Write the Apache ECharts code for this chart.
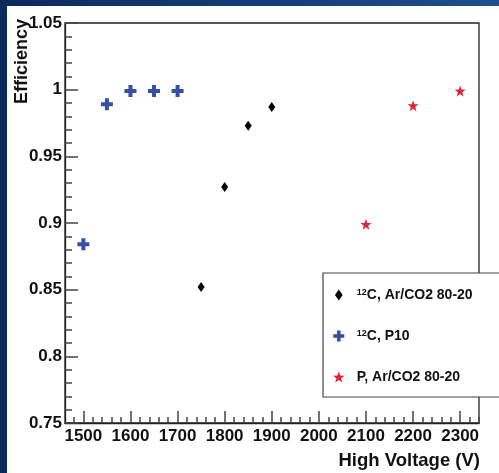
<!DOCTYPE html>
<html>
<head>
<meta charset="utf-8">
<script src="https://cdn.jsdelivr.net/npm/echarts@6/dist/echarts.min.js"></script>
<style>html,body{margin:0;padding:0;background:#fff;}#c{width:499px;height:473px;}</style>
</head>
<body>
<div id="c"></div>
<script>
// ---- data ----
const seriesNames = ['\u00B9\u00B2C, Ar/CO2 80-20', '\u00B9\u00B2C, P10', 'P, Ar/CO2 80-20'];
const voltCAr = [1750, 1800, 1850, 1900];
const effCAr = [0.852, 0.927, 0.973, 0.987];
const voltCP10 = [1500, 1550, 1600, 1650, 1700];
const effCP10 = [0.884, 0.989, 0.999, 0.999, 0.999];
const voltPAr = [2100, 2200, 2300];
const effPAr = [0.899, 0.988, 0.999];
const xTickLabels = [1500, 1600, 1700, 1800, 1900, 2000, 2100, 2200, 2300];
const yTickLabels = [0.75, 0.8, 0.85, 0.9, 0.95, 1, 1.05];
const xTitle = 'High Voltage (V)';
const yTitle = 'Efficiency';

const xMin = 1461, xMax = 2340;
const xMinor = [];
for (let v = 1480; v <= 2340; v += 20) xMinor.push(v);

const pair = (xs, ys) => xs.map((x, i) => [x, ys[i]]);
const FONT = '"Liberation Sans", Arial, Helvetica, sans-serif';
const AX = '#222';

const crossPath = 'path://M4,0H8V4H12V8H8V12H4V8H0V4H4Z';
const diamondPath = 'path://M3.5,0L7,5L3.5,10L0,5Z';
const starPath = 'path://M10,0L12.35,6.76L19.51,6.91L13.8,11.24L15.88,18.09L10,14L4.12,18.09L6.2,11.24L0.49,6.91L7.65,6.76Z';

const legendFmt = name => name.indexOf('\u00B9\u00B2') === 0
  ? '{sup|12}{t|' + name.slice(2) + '}'
  : '{t|' + name + '}';

const chart = echarts.init(document.getElementById('c'), null, {renderer: 'canvas'});
chart.setOption({
  backgroundColor: '#fff',
  animation: false,
  grid: {left: 65, right: 20, top: 23, bottom: 50, show: true, borderColor: AX, borderWidth: 1.3, backgroundColor: 'transparent'},
  xAxis: [{
    type: 'value', min: xMin, max: xMax, position: 'bottom',
    axisLine: {show: true, onZero: false, lineStyle: {color: AX, width: 1.3}},
    axisTick: {show: true, inside: true, length: 12, customValues: xTickLabels, lineStyle: {color: '#444', width: 1.5}},
    axisLabel: {show: true, customValues: xTickLabels, formatter: v => String(v), margin: 5, color: '#111', fontSize: 17, fontWeight: 'bold', fontFamily: FONT},
    splitLine: {show: false}
  }, {
    type: 'value', min: xMin, max: xMax, position: 'bottom', offset: 0,
    axisLine: {show: false, onZero: false},
    axisTick: {show: true, inside: true, length: 6, customValues: xMinor, lineStyle: {color: '#444', width: 1.5}},
    axisLabel: {show: false},
    splitLine: {show: false}
  }],
  yAxis: {
    type: 'value', min: 0.75, max: 1.05, interval: 0.05,
    axisLine: {show: true, onZero: false, lineStyle: {color: AX, width: 1.3}},
    axisTick: {show: true, inside: true, length: 13, lineStyle: {color: '#444', width: 1.5}},
    minorTick: {show: true, splitNumber: 5, length: 7, lineStyle: {color: '#444', width: 1.5}},
    axisLabel: {customValues: yTickLabels, formatter: v => String(v), margin: 3, color: '#111', fontSize: 17, fontWeight: 'bold', fontFamily: FONT},
    splitLine: {show: false}
  },
  legend: {
    orient: 'vertical', left: 323, top: 273,
    padding: [15, 40, 13, 10],
    itemGap: 27, itemWidth: 26, itemHeight: 11,
    backgroundColor: '#fff', borderColor: '#444', borderWidth: 1.2,
    formatter: legendFmt,
    textStyle: {
      color: '#111', fontSize: 14, fontWeight: 'bold', fontFamily: FONT, lineHeight: 14,
      rich: {
        sup: {fontSize: 9, fontWeight: 'bold', fontFamily: FONT, color: '#111', lineHeight: 14, verticalAlign: 'top'},
        t: {fontSize: 14, fontWeight: 'bold', fontFamily: FONT, color: '#111', lineHeight: 14}
      }
    },
    data: seriesNames
  },
  graphic: [
    {type: 'rect', shape: {x: 0, y: 0, width: 499, height: 6}, style: {fill: new echarts.graphic.LinearGradient(0, 0, 1, 0, [{offset: 0, color: '#0a2a5e'}, {offset: 1, color: '#1f4f8e'}])}, silent: true},
    {type: 'rect', shape: {x: 0, y: 0, width: 7, height: 473}, style: {fill: '#0a2a5e'}, silent: true},
    {type: 'text', x: 22, y: 19, rotation: Math.PI / 2, style: {text: yTitle, fill: '#111', font: 'bold 18px ' + FONT, align: 'right', verticalAlign: 'middle'}},
    {type: 'text', x: 480, y: 461, style: {text: xTitle, fill: '#111', font: 'bold 18.5px ' + FONT, align: 'right', verticalAlign: 'middle'}}
  ],
  series: [
    {name: seriesNames[0], type: 'scatter', xAxisIndex: 0, data: pair(voltCAr, effCAr), symbol: diamondPath, symbolSize: [7, 10], itemStyle: {color: '#000', opacity: 1}},
    {name: seriesNames[1], type: 'scatter', xAxisIndex: 0, data: pair(voltCP10, effCP10), symbol: crossPath, symbolSize: 12, itemStyle: {color: '#3650a6', opacity: 1}},
    {name: seriesNames[2], type: 'scatter', xAxisIndex: 0, data: pair(voltPAr, effPAr), symbol: starPath, symbolSize: 11, itemStyle: {color: '#e0243a', opacity: 1}}
  ]
});
</script>
</body>
</html>
